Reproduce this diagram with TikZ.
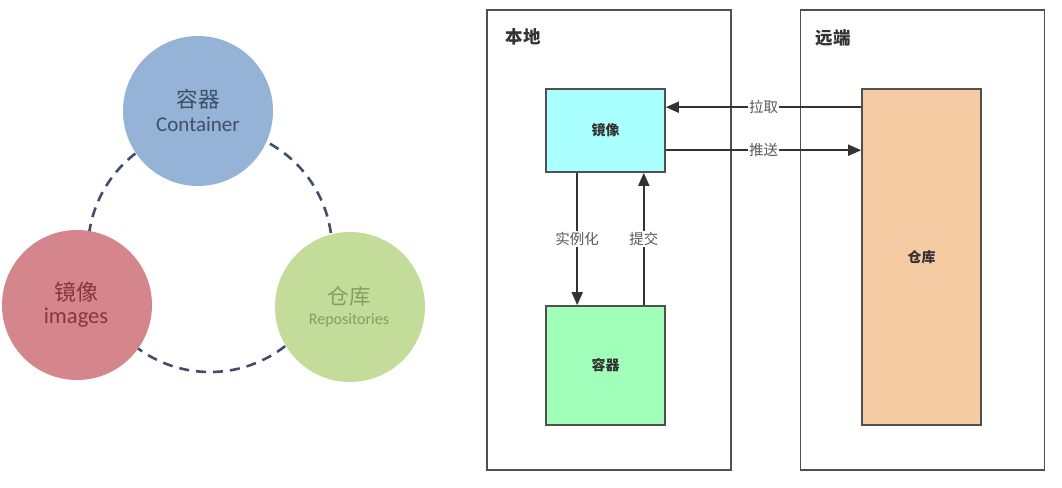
\documentclass[tikz,border=0pt]{standalone}
\usepackage{fontspec}
\setmainfont{Carlito}
\newfontfamily\cjk{Noto Sans CJK SC}
\usetikzlibrary{arrows.meta}
\definecolor{cblue}{HTML}{94B3D6}
\definecolor{cred}{HTML}{D4868C}
\definecolor{cgreen}{HTML}{C3DC9A}
\definecolor{dashc}{HTML}{3F4F6B}
\definecolor{tblue}{HTML}{3F4F66}
\definecolor{tred}{HTML}{853640}
\definecolor{tgreen}{HTML}{82A160}
\definecolor{imgfill}{HTML}{AAFFFF}
\definecolor{confill}{HTML}{A0FFB8}
\definecolor{repofill}{HTML}{F4CBA2}
\definecolor{linec}{HTML}{333333}
\definecolor{boxc}{HTML}{505050}
\tikzset{
  bigcirc/.style={circle, minimum size=150pt, inner sep=0pt, align=center},
  area/.style={draw=boxc, line width=1.6pt, minimum width=244pt, minimum height=460pt},
  areatitle/.style={font=\cjk\bfseries\fontsize{17.5}{19}\selectfont, text=linec, anchor=west},
  box/.style={draw=boxc, line width=1.6pt, minimum width=119pt, font=\cjk\bfseries\fontsize{14}{16}\selectfont, text=linec},
  arr/.style={draw=linec, line width=1.7pt, -{Triangle[length=13pt,width=11pt]}},
  lbl/.style={fill=white, inner sep=1pt, text=black!65, font=\cjk\fontsize{14.5}{16}\selectfont},
}
\begin{document}
\begin{tikzpicture}[x=1pt,y=-1pt]
\useasboundingbox (0,0) rectangle (1062,487);
\fill[white] (0,0) rectangle (1062,487);
% left: dashed ring
\coordinate (ringc) at (210,250);
\draw[dashc, line width=2.6pt, dash pattern=on 10pt off 7pt] (ringc) circle[radius=122pt];
\node[bigcirc, fill=cblue] (ccon) at (198,111) {};
\node[bigcirc, fill=cred] (cimg) at (77,305) {};
\node[bigcirc, fill=cgreen] (crepo) at (350,307) {};
\node[text=tblue, font=\cjk\fontsize{21.5}{23}\selectfont] (tcon1) at (198,99) {容器};
\node[text=tblue, font=\fontsize{21}{23}\selectfont] (tcon2) at (198,124) {Container};
\node[text=tred, font=\cjk\fontsize{22}{24}\selectfont] (timg1) at (76,292) {镜像};
\node[text=tred, font=\fontsize{22.5}{24}\selectfont] (timg2) at (76,318) {images};
\node[text=tgreen, font=\cjk\fontsize{21.5}{23}\selectfont] (trepo1) at (349,296) {仓库};
\node[text=tgreen, font=\fontsize{16}{18}\selectfont] (trepo2) at (349,320) {Repositories};
% right: local / remote
\node[area] (local) at (609,240) {};
\node[area] (remote) at (922.5,240) {};
\node[areatitle] (tlocal) at (502,37) {本地};
\node[areatitle] (tremote) at (812,38) {远端};
\node[box, fill=imgfill, minimum height=83pt] (img) at (605.5,130.5) {镜像};
\node[box, fill=confill, minimum height=119pt] (con) at (605.5,365.5) {容器};
\node[box, fill=repofill, minimum height=336pt] (repo) at (921.5,257) {仓库};
\draw[arr] ([yshift=-19pt]repo.north west) -- node[lbl] {拉取} ([yshift=-19pt]img.north east);
\draw[arr] ([yshift=-62pt]img.north east) -- node[lbl] {推送} ([yshift=-62pt]repo.north west);
\draw[arr] ([xshift=32pt]img.south west) -- node[lbl] {实例化} ([xshift=32pt]con.north west);
\draw[arr] ([xshift=-22pt]con.north east) -- node[lbl] {提交} ([xshift=-22pt]img.south east);
\end{tikzpicture}
\end{document}
